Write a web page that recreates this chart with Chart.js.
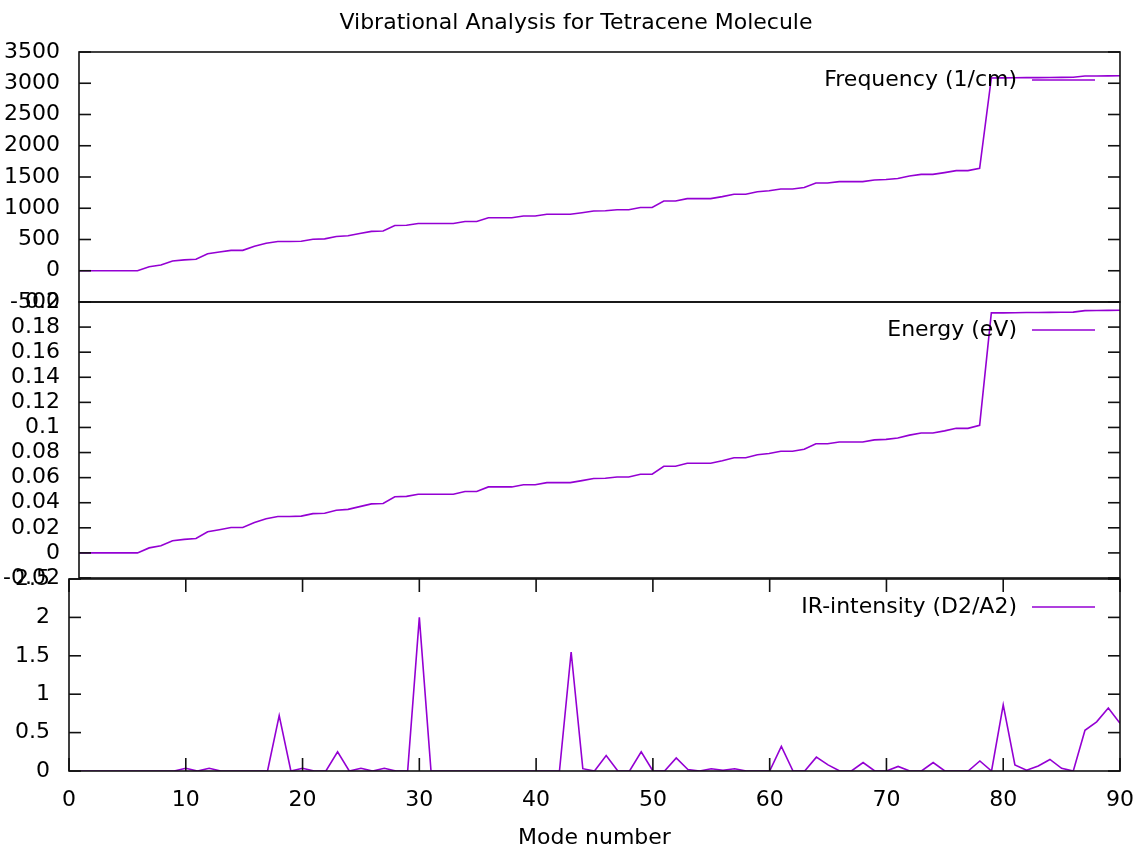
<!DOCTYPE html>
<html>
<head>
<meta charset="utf-8">
<title>Vibrational Analysis for Tetracene Molecule</title>
<script src="https://cdn.jsdelivr.net/npm/chart.js@4.4.1/dist/chart.umd.min.js"></script>
<style>
  html, body { margin: 0; padding: 0; background: #fff; }
  #wrap { position: relative; width: 1141px; height: 848px; overflow: hidden; }
  canvas { position: absolute; left: 0; }
  #freqChart { top: 0; }
  #energyChart { top: 272px; }
  #irChart { top: 549px; }
</style>
</head>
<body>
<div id="wrap">
  <canvas id="freqChart" width="1141" height="330"></canvas>
  <canvas id="energyChart" width="1141" height="334"></canvas>
  <canvas id="irChart" width="1141" height="299"></canvas>
</div>
<script>
// mode index 1..90 (tetracene, 30 atoms)
const modes = [
  1, 2, 3, 4, 5, 6, 7, 8, 9, 10, 11, 12, 13, 14, 15, 16, 17, 18, 19, 20,
  21, 22, 23, 24, 25, 26, 27, 28, 29, 30, 31, 32, 33, 34, 35, 36, 37, 38, 39, 40,
  41, 42, 43, 44, 45, 46, 47, 48, 49, 50, 51, 52, 53, 54, 55, 56, 57, 58, 59, 60,
  61, 62, 63, 64, 65, 66, 67, 68, 69, 70, 71, 72, 73, 74, 75, 76, 77, 78, 79, 80,
  81, 82, 83, 84, 85, 86, 87, 88, 89, 90
];

// frequency in 1/cm
const frequency = [
  0, 0, 0, 0, 0, 0, 65, 92, 157, 174,
  185, 272, 299, 326, 326, 391, 440, 467, 467, 472,
  505, 510, 548, 559, 595, 630, 636, 723, 727, 755,
  755, 755, 755, 789, 789, 848, 848, 848, 876, 876,
  903, 903, 903, 929, 956, 960, 976, 976, 1011, 1011,
  1115, 1115, 1154, 1154, 1154, 1186, 1224, 1224, 1263, 1279,
  1307, 1307, 1333, 1403, 1403, 1426, 1426, 1426, 1453, 1460,
  1477, 1515, 1542, 1542, 1570, 1602, 1602, 1640, 3085, 3086,
  3088, 3090, 3090, 3092, 3094, 3095, 3115, 3117, 3118, 3120
];

// energy in eV
const energy = [
  0, 0, 0, 0, 0, 0, 0.0040, 0.0057, 0.0097, 0.0108,
  0.0115, 0.0169, 0.0185, 0.0202, 0.0202, 0.0242, 0.0273, 0.0290, 0.0290, 0.0293,
  0.0313, 0.0316, 0.0340, 0.0347, 0.0369, 0.0391, 0.0394, 0.0448, 0.0451, 0.0468,
  0.0468, 0.0468, 0.0468, 0.0489, 0.0489, 0.0526, 0.0526, 0.0526, 0.0543, 0.0543,
  0.0560, 0.0560, 0.0560, 0.0576, 0.0593, 0.0595, 0.0605, 0.0605, 0.0627, 0.0627,
  0.0691, 0.0691, 0.0715, 0.0715, 0.0715, 0.0735, 0.0759, 0.0759, 0.0783, 0.0793,
  0.0810, 0.0810, 0.0826, 0.0870, 0.0870, 0.0884, 0.0884, 0.0884, 0.0901, 0.0905,
  0.0916, 0.0939, 0.0956, 0.0956, 0.0973, 0.0993, 0.0993, 0.1017, 0.1913, 0.1913,
  0.1914, 0.1916, 0.1916, 0.1917, 0.1918, 0.1919, 0.1931, 0.1932, 0.1933, 0.1934
];

// IR intensity in D2/A2
const irIntensity = [
  0, 0, 0, 0, 0, 0, 0, 0, 0, 0.035,
  0, 0.035, 0, 0, 0, 0, 0, 0.72, 0, 0.035,
  0, 0, 0.25, 0, 0.035, 0, 0.035, 0, 0, 2.0,
  0, 0, 0, 0, 0, 0, 0, 0, 0, 0,
  0, 0, 1.55, 0.03, 0, 0.2, 0, 0, 0.25, 0,
  0, 0.17, 0.02, 0, 0.03, 0.01, 0.03, 0, 0, 0,
  0.32, 0, 0, 0.18, 0.08, 0, 0, 0.11, 0, 0,
  0.06, 0, 0, 0.11, 0, 0, 0, 0.13, 0, 0.86,
  0.08, 0.01, 0.065, 0.15, 0.035, 0, 0.53, 0.64, 0.82, 0.62
];

const freqTicks = [-500, 0, 500, 1000, 1500, 2000, 2500, 3000, 3500];
const energyTicks = [-0.02, 0, 0.02, 0.04, 0.06, 0.08, 0.1, 0.12, 0.14, 0.16, 0.18, 0.2];
const energyTickLabels = ['-0.02', '0', '0.02', '0.04', '0.06', '0.08', '0.1', '0.12', '0.14', '0.16', '0.18', '0.2'];
const irTicks = [0, 0.5, 1, 1.5, 2, 2.5];
const irTickLabels = ['0', '0.5', '1', '1.5', '2', '2.5'];
const modeTicks = [0, 10, 20, 30, 40, 50, 60, 70, 80, 90];

const lineColor = '#9400d3';
const fontFamily = '"DejaVu Sans", "Liberation Sans", sans-serif';
const fontSize = 22;

Chart.defaults.font.family = fontFamily;
Chart.defaults.font.size = fontSize;
Chart.defaults.color = '#000';

function toPoints(values) {
  return modes.map((m, i) => ({ x: m, y: values[i] }));
}

function fixedTicks(values) {
  return (scale) => {
    scale.ticks = values.map((value) => ({ value }));
  };
}

// gnuplot style border with inward tics on all sides
const gnuplotFrame = {
  id: 'gnuplotFrame',
  afterDatasetsDraw(chart, args, opts) {
    const { ctx, chartArea: a, scales } = chart;
    ctx.save();
    ctx.strokeStyle = '#111';
    ctx.lineWidth = 1.6;
    const seg = (x1, y1, x2, y2) => {
      ctx.beginPath();
      ctx.moveTo(x1, y1);
      ctx.lineTo(x2, y2);
      ctx.stroke();
    };
    ctx.strokeRect(a.left, a.top, a.right - a.left, a.bottom - a.top);
    scales.y.ticks.forEach((t) => {
      const p = scales.y.getPixelForValue(t.value);
      seg(a.left, p, a.left + 12, p);
      seg(a.right - 12, p, a.right, p);
    });
    if (opts.xTicks) {
      scales.x.ticks.forEach((t) => {
        const p = scales.x.getPixelForValue(t.value);
        seg(p, a.bottom, p, a.bottom - 13);
        seg(p, a.top, p, a.top + 13);
      });
    }
    ctx.restore();
  },
};

// key drawn inside the plot, top right, like gnuplot
const insideKey = {
  id: 'insideKey',
  afterDatasetsDraw(chart) {
    const { ctx, chartArea: a } = chart;
    const ds = chart.data.datasets[0];
    const y = a.top + 28;
    ctx.save();
    ctx.font = fontSize + 'px ' + fontFamily;
    ctx.fillStyle = '#000';
    ctx.textAlign = 'right';
    ctx.textBaseline = 'middle';
    ctx.fillText(ds.label, a.right - 103, y);
    ctx.strokeStyle = ds.borderColor;
    ctx.lineWidth = ds.borderWidth;
    ctx.beginPath();
    ctx.moveTo(a.right - 88, y);
    ctx.lineTo(a.right - 25, y);
    ctx.stroke();
    ctx.restore();
  },
};

// multiplot title, centred over the whole page like gnuplot's
const plotTitle = {
  id: 'plotTitle',
  afterDraw(chart, args, opts) {
    if (!opts.text) return;
    const { ctx } = chart;
    ctx.save();
    ctx.font = fontSize + 'px ' + fontFamily;
    ctx.fillStyle = '#000';
    ctx.textAlign = 'center';
    ctx.textBaseline = 'middle';
    ctx.fillText(opts.text, opts.x, opts.y);
    ctx.restore();
  },
};

function lineDataset(label, values) {
  return {
    label,
    data: toPoints(values),
    borderColor: lineColor,
    backgroundColor: lineColor,
    borderWidth: 1.6,
    pointRadius: 0,
    tension: 0,
    fill: false,
  };
}

function yScale(min, max, ticks, labels, width) {
  return {
    type: 'linear',
    min,
    max,
    afterBuildTicks: fixedTicks(ticks),
    afterFit: (s) => { s.width = width; s.paddingTop = 0; s.paddingBottom = 0; },
    grid: { display: false },
    border: { display: false },
    ticks: {
      padding: 11,
      autoSkip: false,
      callback: (value, i) => (labels ? labels[i] : String(value)),
    },
  };
}

const hiddenX = { type: 'linear', min: 1, max: 90, display: false };

new Chart(document.getElementById('freqChart'), {
  type: 'line',
  data: { datasets: [lineDataset('Frequency (1/cm)', frequency)] },
  options: {
    responsive: false,
    animation: false,
    layout: { padding: { left: 0, right: 21, top: 52, bottom: 28 } },
    plugins: {
      legend: { display: false },
      tooltip: { enabled: false },
      plotTitle: { text: 'Vibrational Analysis for Tetracene Molecule', x: 576, y: 23 },
      gnuplotFrame: { xTicks: false },
    },
    scales: {
      x: hiddenX,
      y: yScale(-500, 3500, freqTicks, null, 79),
    },
  },
  plugins: [gnuplotFrame, insideKey, plotTitle],
});

new Chart(document.getElementById('energyChart'), {
  type: 'line',
  data: { datasets: [lineDataset('Energy (eV)', energy)] },
  options: {
    responsive: false,
    animation: false,
    layout: { padding: { left: 0, right: 21, top: 30, bottom: 28 } },
    plugins: {
      legend: { display: false },
      tooltip: { enabled: false },
      gnuplotFrame: { xTicks: false },
    },
    scales: {
      x: hiddenX,
      y: yScale(-0.02, 0.2, energyTicks, energyTickLabels, 79),
    },
  },
  plugins: [gnuplotFrame, insideKey],
});

new Chart(document.getElementById('irChart'), {
  type: 'line',
  data: { datasets: [lineDataset('IR-intensity (D2/A2)', irIntensity)] },
  options: {
    responsive: false,
    animation: false,
    layout: { padding: { left: 0, right: 21, top: 30, bottom: 0 } },
    plugins: {
      legend: { display: false },
      tooltip: { enabled: false },
      gnuplotFrame: { xTicks: true },
    },
    scales: {
      x: {
        type: 'linear',
        min: 0,
        max: 90,
        afterBuildTicks: fixedTicks(modeTicks),
        afterFit: (s) => { s.height = 77; s.paddingLeft = 0; s.paddingRight = 0; },
        grid: { display: false },
        border: { display: false },
        ticks: { padding: 8, maxRotation: 0, autoSkip: false },
        title: {
          display: true,
          text: 'Mode number',
          font: { size: fontSize },
          color: '#000',
          padding: { top: 0, bottom: -3 },
        },
      },
      y: yScale(0, 2.5, irTicks, irTickLabels, 69),
    },
  },
  plugins: [gnuplotFrame, insideKey],
});
</script>
</body>
</html>
